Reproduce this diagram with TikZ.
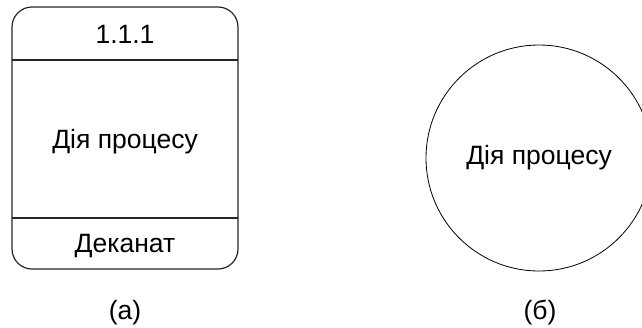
\documentclass[tikz,border=0pt]{standalone}
\usepackage{fontspec}
\setmainfont{Liberation Sans}
\begin{document}
\begin{tikzpicture}[x=1pt,y=-1pt,
  lbl/.style={anchor=base,inner sep=0pt,font=\fontsize{26.5}{29}\selectfont},
  shapeline/.style={draw=black!85,line width=1.2pt}]
\clip (0,0) rectangle (642,327);
\fill[white] (0,0) rectangle (642,327);
% (a) process box
\draw[shapeline,rounded corners=20pt] (12,7) rectangle (238,269);
\coordinate (l1) at (12,60); \coordinate (r1) at (238,60);
\coordinate (l2) at (12,218); \coordinate (r2) at (238,218);
\draw[shapeline] (l1) -- (r1);
\draw[shapeline] (l2) -- (r2);
\node[lbl] (num) at (125,43) {1.1.1};
\node[lbl] (act) at (125,148) {Дія процесу};
\node[lbl] (dep) at (125,252) {Деканат};
\node[lbl] (la) at (125,319) {(а)};
% (b) circle
\draw[draw=black,line width=0.8pt] (539,158) circle[radius=113];
\node[lbl] (act2) at (539,164) {Дія процесу};
\node[lbl] (lb) at (540,319) {(б)};
\end{tikzpicture}
\end{document}
